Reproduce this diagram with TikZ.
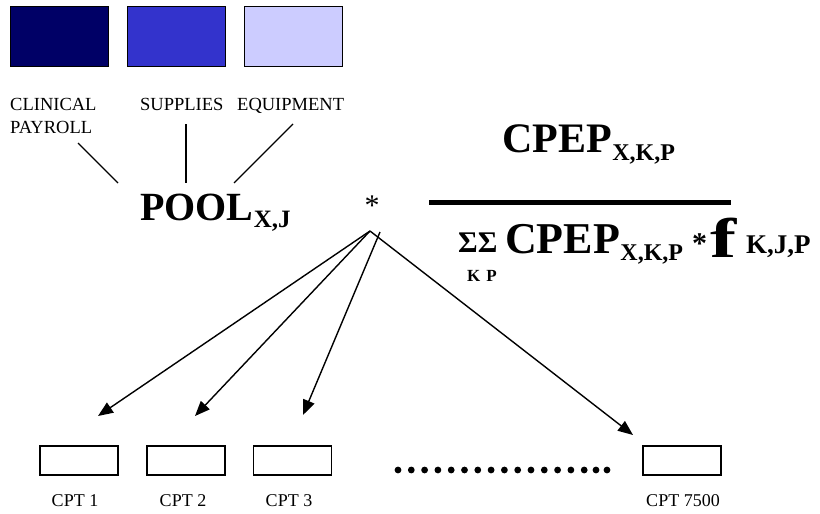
\documentclass[tikz,border=0pt]{standalone}
\usepackage{fontspec}
\setmainfont{Liberation Serif}
\usetikzlibrary{arrows.meta}
\definecolor{navy}{HTML}{000066}
\definecolor{midblue}{HTML}{3333CC}
\definecolor{paleblue}{HTML}{CCCCFF}
\begin{document}
\begin{tikzpicture}[x=1pt,y=-1pt,
  swatch/.style={draw=black, line width=1pt, minimum width=98pt, minimum height=60pt, inner sep=0},
  cptbox/.style={draw=black, line width=1.3pt, minimum width=78pt, minimum height=29pt, inner sep=0},
  lbl/.style={inner sep=0, anchor=base west, font=\fontsize{18.5}{23}\selectfont},
  cptlbl/.style={inner sep=0, anchor=base, font=\fontsize{18}{20}\selectfont},
  conn/.style={line width=1.2pt},
  arr/.style={line width=1.4pt, -{Triangle[length=15pt,width=12pt]}},
  big/.style={inner sep=0, anchor=base west, font=\bfseries\fontsize{42}{48}\selectfont},
  sub/.style={inner sep=0, anchor=base west, font=\bfseries\fontsize{24}{28}\selectfont},
  dot/.style={fill=black, draw=none}
]
\useasboundingbox (0,0) rectangle (820,514);

% colour swatches
\node[swatch, fill=navy] (sw1) at (59.5,36.5) {};
\node[swatch, fill=midblue] (sw2) at (176.5,36.5) {};
\node[swatch, fill=paleblue] (sw3) at (293,36.5) {};

% labels
\node[lbl] (clin) at (10,110) {CLINICAL};
\node[lbl] (payroll) at (10,133) {PAYROLL};
\node[lbl] (supp) at (140,110) {SUPPLIES};
\node[lbl] (equip) at (237,110) {EQUIPMENT};

% POOL
\node[big, font=\bfseries\fontsize{40}{46}\selectfont] (pool) at (140,220) {POOL};
\node[sub, font=\bfseries\fontsize{25}{28}\selectfont] (poolsub) at (pool.base east) [yshift=-7pt] {X,J};

% connectors from labels to POOL
\coordinate (c1a) at (78,143);  \coordinate (c1b) at (118,183);
\coordinate (c2a) at (186,124); \coordinate (c2b) at (186,183);
\coordinate (c3a) at (293,124); \coordinate (c3b) at (234,183);
\draw[conn] (c1a) -- (c1b);
\draw[conn] (c2a) -- (c2b);
\draw[conn] (c3a) -- (c3b);

% multiplication star
\node[inner sep=0, anchor=base, font=\fontsize{30}{34}\selectfont] (star) at (372,215) {*};

% fraction
\node[big] (num) at (502,152) {CPEP};
\node[sub] (numsub) at (num.base east) [yshift=-8pt] {X,K,P};
\coordinate (barL) at (429,202.5);
\coordinate (barR) at (731,202.5);
\draw[line width=5pt] (barL) -- (barR);

\node[inner sep=0, anchor=base west, font=\bfseries\fontsize{30}{34}\selectfont] (sigma) at (458,252) {ΣΣ};
\node[inner sep=0, anchor=base west, font=\bfseries\fontsize{17}{20}\selectfont] (kp) at (467,281) {K\hspace{6pt}P};
\node[big, font=\bfseries\fontsize{44}{50}\selectfont] (den) at (505,253) {CPEP};
\node[sub] (densub) at (den.base east) [yshift=-7pt] {X,K,P};
\node[inner sep=0, anchor=base west, font=\bfseries\fontsize{30}{34}\selectfont] (dstar) at (692,253) {*};
\node[inner sep=0, anchor=base west, font=\bfseries\fontsize{56}{60}\selectfont] (f) at (710,257) {\scalebox{1.4}[1]{f}};
\node[sub, font=\bfseries\fontsize{27}{30}\selectfont] (fsub) at (746,253) {K,J,P};

% CPT boxes
\node[cptbox] (cpt1) at (79,460.5) {};
\node[cptbox] (cpt2) at (186,460.5) {};
\node[cptbox] (cpt3) at (292.5,460.5) {};
\node[cptbox] (cpt4) at (682,460.5) {};
\node[cptlbl] (l1) at (75,506) {CPT 1};
\node[cptlbl] (l2) at (183,506) {CPT 2};
\node[cptlbl] (l3) at (289,506) {CPT 3};
\node[cptlbl] (l4) at (683,506) {CPT 7500};

% dots
\foreach \xx in {398,411.3,424.6,437.9,451.2,464.5,477.8,491.1,504.4,517.7,531,544.3,557.6,570.9,584.2,596,607}
  \fill[dot] (\xx,470) circle (3.4pt);

% arrows
\coordinate (hub) at (370,231);
\coordinate (hub3) at (380,232);
\coordinate (t1) at (98,416);
\coordinate (t2) at (195,416);
\coordinate (t3) at (303,415);
\coordinate (t4) at (633,435);
\draw[arr] (hub) -- (t1);
\draw[arr] (hub) -- (t2);
\draw[arr] (hub3) -- (t3);
\draw[arr] (hub) -- (t4);
\end{tikzpicture}
\end{document}
